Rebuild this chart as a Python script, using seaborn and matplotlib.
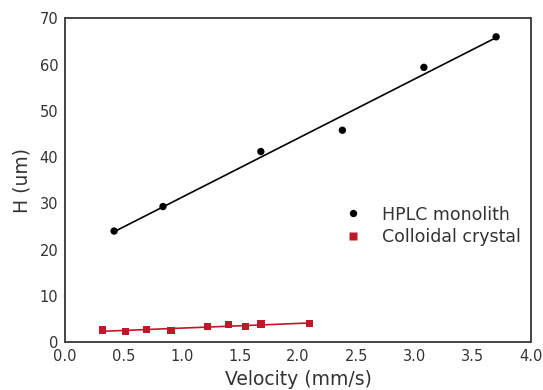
import numpy as np
import pandas as pd
import matplotlib.pyplot as plt
import seaborn as sns

hplc_velocity = [0.42, 0.84, 1.68, 2.38, 3.08, 3.70]
hplc_h = [24.0, 29.3, 41.2, 45.8, 59.4, 66.0]
colloid_velocity = [0.32, 0.52, 0.70, 0.91, 1.22, 1.40, 1.55, 1.68, 2.10]
colloid_h = [2.6, 2.3, 2.7, 2.5, 3.4, 3.8, 3.3, 3.9, 4.0]

df = pd.concat([
    pd.DataFrame({'Velocity': hplc_velocity, 'H': hplc_h, 'Sample': 'HPLC monolith'}),
    pd.DataFrame({'Velocity': colloid_velocity, 'H': colloid_h, 'Sample': 'Colloidal crystal'}),
])

sns.set_style("white")
plt.rcParams['font.family'] = ['DejaVu Sans']

fig, ax = plt.subplots(figsize=(5.43, 3.90), dpi=100)
fig.subplots_adjust(left=0.12, right=0.978, top=0.953, bottom=0.123)

colors = {'HPLC monolith': 'black', 'Colloidal crystal': '#c0182a'}
markers = {'HPLC monolith': 'o', 'Colloidal crystal': 's'}

# linear fits
for name, x, y in [('HPLC monolith', hplc_velocity, hplc_h),
                   ('Colloidal crystal', colloid_velocity, colloid_h)]:
    k, b = np.polyfit(x, y, 1)
    xs = np.array([min(x), max(x)])
    ax.plot(xs, k * xs + b, color=colors[name], lw=1.2, zorder=2)

sns.scatterplot(data=df, x='Velocity', y='H', hue='Sample', style='Sample',
                palette=colors, markers=markers, s=28, edgecolor='none',
                ax=ax, zorder=3)

ax.set_xlim(0, 4.0)
ax.set_ylim(0, 70)
ax.set_xticks(np.arange(0, 4.01, 0.5))
ax.set_yticks(np.arange(0, 71, 10))
ax.xaxis.set_major_formatter(plt.FormatStrFormatter('%.1f'))
ax.tick_params(direction='in', length=4, width=1.2, labelsize=10.5,
               colors='#333333', labelcolor='#333333', pad=5)
for s in ax.spines.values():
    s.set_color('#444444')
    s.set_linewidth(1.4)

ax.set_xlabel('Velocity (mm/s)', fontsize=13.5, color='#333333')
ax.set_ylabel('H (um)', fontsize=13.5, color='#333333', labelpad=6)

leg = ax.legend(loc='upper left', bbox_to_anchor=(0.566, 0.47), frameon=False,
                fontsize=12.5, handlelength=1.0, handletextpad=1.15,
                labelspacing=0.25)
for t in leg.get_texts():
    t.set_color('#333333')

plt.savefig('out.png', dpi=100)
plt.close()
